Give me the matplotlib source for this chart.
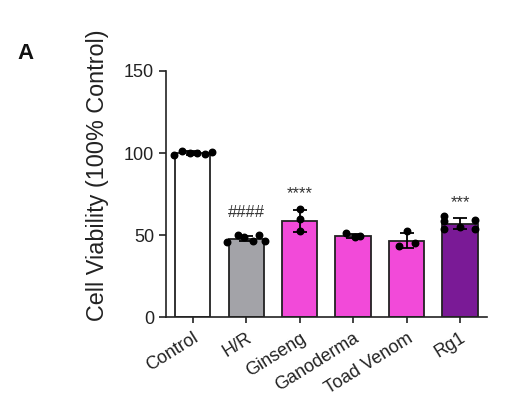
import matplotlib
matplotlib.use("Agg")
import matplotlib.pyplot as plt
import numpy as np

plt.rcParams['font.family'] = ['Liberation Sans', 'DejaVu Sans']

categories = ["Control", "H/R", "Ginseng", "Ganoderma", "Toad Venom", "Rg1"]
means = [100.0, 47.6, 58.7, 49.5, 46.5, 56.9]
sds = [1.0, 1.5, 6.7, 1.3, 4.5, 3.2]
points = [
    [98.8, 101.5, 100.2, 99.8, 99.6, 100.4],
    [45.6, 50.2, 48.8, 46.2, 50.0, 46.5],
    [65.8, 59.8, 52.4],
    [51.2, 48.6, 49.2],
    [52.4, 43.5, 45.1],
    [61.8, 58.7, 53.5, 59.1, 53.5, 54.9],
]
point_offsets = [
    [-0.36, -0.2, -0.06, 0.08, 0.22, 0.36],
    [-0.36, -0.16, -0.04, 0.12, 0.24, 0.36],
    [0.0, 0.0, 0.0],
    [-0.14, 0.04, 0.13],
    [0.0, -0.15, 0.15],
    [-0.3, -0.3, -0.3, 0.28, 0.28, 0.0],
]
annotations = ["", "####", "****", "", "", "***"]
annotation_levels = [0, 64, 75.5, 0, 0, 69.5]
colors = ["#ffffff", "#a3a3a8", "#f24ad9", "#f24ad9", "#f24ad9", "#7a1a96"]
ylabel = "Cell Viability (100% Control)"
yticks = [0, 50, 100, 150]

fig = plt.figure(figsize=(5.14, 4.08), dpi=100)
ax = fig.add_axes([0.323, 0.223, 0.624, 0.603])

x = np.arange(len(categories))
ax.bar(x, means, width=0.66, color=colors, edgecolor="#222222", linewidth=1.3, zorder=2)
ax.errorbar(x, means, yerr=sds, fmt="none", ecolor="black", elinewidth=1.3,
            capsize=5, capthick=1.3, zorder=3)
for i, (pts, offs) in enumerate(zip(points, point_offsets)):
    ax.scatter(np.array(offs) + i, pts, s=22, color="black", zorder=4)
for i, t in enumerate(annotations):
    if t:
        ax.text(i, annotation_levels[i], t, ha="center", va="center",
                fontsize=12, color="#333333")

ax.set_xlim(-0.5, 5.5)
ax.set_ylim(0, 150)
ax.set_yticks(yticks)
ax.set_xticks(x)
ax.set_xticklabels(categories, rotation=32, ha="right", rotation_mode="anchor",
                   fontsize=13)
ax.tick_params(axis="y", labelsize=13, length=5, width=1.2, colors="#222222")
ax.tick_params(axis="x", length=4, width=1.2, colors="#222222", pad=5)
ax.set_ylabel(ylabel, fontsize=16.8, color="#222222")
ax.yaxis.set_label_coords(-0.178, 0.577)
for s in ["top", "right"]:
    ax.spines[s].set_visible(False)
for s in ["left", "bottom"]:
    ax.spines[s].set_linewidth(1.2)
    ax.spines[s].set_color("#222222")

fig.text(0.033, 0.855, "A", fontsize=16, fontweight="bold", color="#111111")

fig.savefig("out.png", dpi=100)
